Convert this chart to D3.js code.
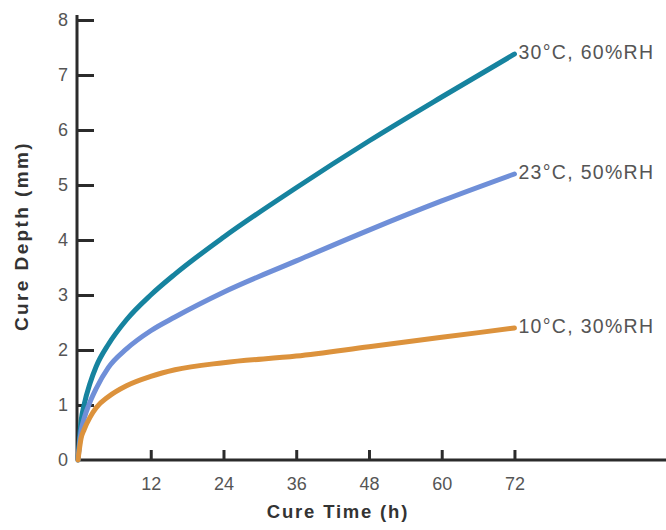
<!DOCTYPE html>
<html>
<head>
<meta charset="utf-8">
<script src="https://cdn.jsdelivr.net/npm/d3@7"></script>
<style>
  body { margin: 0; background: #fff; }
  text { font-family: "Liberation Sans", Arial, sans-serif; }
</style>
</head>
<body>
<div id="chart"></div>
<script>
// Chart size and margins
const width = 666;
const height = 530;
const margin = {left: 78, right: 0, bottom: 70, top: 20};

// Data (hours, mm)
const hours30 = [0, 0.5, 1, 2, 3, 5, 8, 12, 16, 24, 36, 48, 60, 72];
const depth30 = [0, 0.7, 1.0, 1.4, 1.7, 2.1, 2.55, 3.0, 3.38, 4.05, 4.95, 5.8, 6.6, 7.38];
const hours23 = [0, 0.5, 1, 2, 3, 5, 8, 12, 16, 24, 36, 48, 60, 72];
const depth23 = [0, 0.52, 0.75, 1.06, 1.3, 1.68, 2.02, 2.35, 2.6, 3.05, 3.62, 4.18, 4.71, 5.2];
const hours10 = [0, 0.5, 1, 2, 3, 5, 8, 12, 16, 24, 36, 48, 60, 72];
const depth10 = [0, 0.39, 0.55, 0.78, 0.95, 1.15, 1.35, 1.52, 1.64, 1.77, 1.89, 2.06, 2.23, 2.4];
const seriesLabels = ["30°C, 60%RH", "23°C, 50%RH", "10°C, 30%RH"];
const seriesColors = ["#16839f", "#6f8fd8", "#dc923c"];
const xTicks = [12, 24, 36, 48, 60, 72];
const yTicks = [0, 1, 2, 3, 4, 5, 6, 7, 8];

const svg = d3.select("#chart")
  .append("svg")
  .attr("width", width)
  .attr("height", height);

// Scales
const x = d3.scaleLinear()
  .domain([0, 97])
  .range([margin.left, width - margin.right]);

const y = d3.scaleLinear()
  .domain([0, 8])
  .range([height - margin.bottom, margin.top]);

// Y axis, ticks pointing inwards
const yAxis = svg.append("g")
  .attr("transform", `translate(${margin.left - 1}, 0)`)
  .call(d3.axisRight(y).tickValues(yTicks).tickSize(17).tickSizeOuter(0).tickFormat(d3.format("d")));
yAxis.select(".domain").attr("stroke", "#2b2b2b").attr("stroke-width", 3)
  .attr("d", `M0,${y(0)}V${y(8) - 5}`);
yAxis.selectAll(".tick line").attr("stroke", "#2b2b2b").attr("stroke-width", 3);
yAxis.selectAll(".tick text")
  .attr("x", -9).attr("text-anchor", "end")
  .attr("fill", "#555").attr("font-size", 18);
yAxis.selectAll(".tick").filter(d => d === 0).select("line").remove();

// X axis, ticks pointing upwards
const xAxis = svg.append("g")
  .attr("transform", `translate(0, ${height - margin.bottom})`)
  .call(d3.axisTop(x).tickValues(xTicks).tickSize(10).tickSizeOuter(0));
xAxis.select(".domain").attr("stroke", "#2b2b2b").attr("stroke-width", 3)
  .attr("d", `M${margin.left - 2},0H${width}`);
xAxis.selectAll(".tick line").attr("stroke", "#2b2b2b").attr("stroke-width", 3);
xAxis.selectAll(".tick text")
  .attr("y", 30).attr("dy", 0)
  .attr("fill", "#555").attr("font-size", 18);

// Axis titles
svg.append("text")
  .attr("x", 338).attr("y", 518)
  .attr("text-anchor", "middle")
  .attr("font-size", 18.5).attr("font-weight", "bold").attr("fill", "#333")
  .attr("letter-spacing", 1.8)
  .text("Cure Time (h)");

svg.append("text")
  .attr("transform", "translate(28, 236) rotate(-90)")
  .attr("text-anchor", "middle")
  .attr("font-size", 19).attr("font-weight", "bold").attr("fill", "#333")
  .attr("letter-spacing", 2.4)
  .text("Cure Depth (mm)");

// Curves
const line = d3.line()
  .x(d => x(d[0]))
  .y(d => y(d[1]))
  .curve(d3.curveMonotoneX);

const allSeries = [[hours30, depth30], [hours23, depth23], [hours10, depth10]];
allSeries.forEach(([hs, ds], i) => {
  const pts = hs.map((h, j) => [h, ds[j]]);
  svg.append("path")
    .datum(pts)
    .attr("fill", "none")
    .attr("stroke", seriesColors[i])
    .attr("stroke-width", 5)
    .attr("stroke-linecap", "round")
    .attr("d", line);

  svg.append("text")
    .attr("x", x(72) + 4)
    .attr("y", y(ds[ds.length - 1]) - 2)
    .attr("dy", "0.35em")
    .attr("font-size", 19.5).attr("fill", "#555")
    .attr("letter-spacing", 1.3)
    .text(seriesLabels[i]);
});
</script>
</body>
</html>
